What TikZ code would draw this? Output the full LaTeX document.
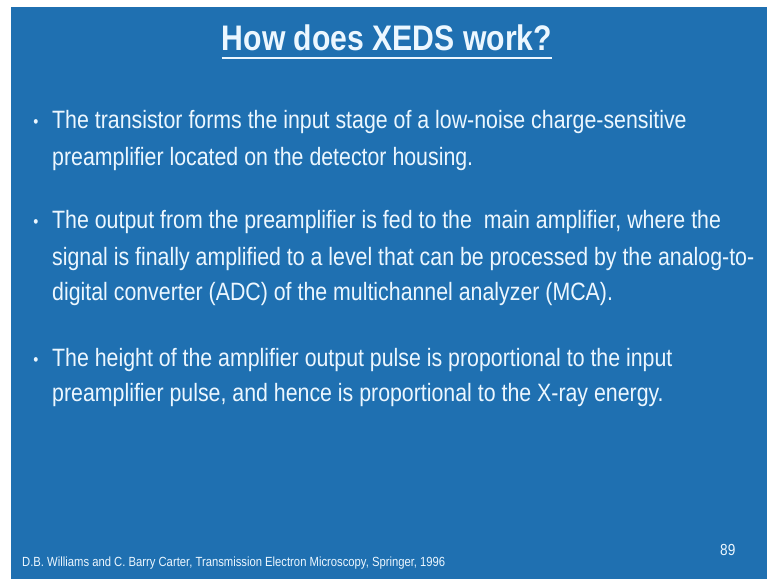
\documentclass[tikz,border=0pt]{standalone}
\usepackage{fontspec}
\setmainfont[FakeStretch=0.85]{Liberation Sans}
\definecolor{slideblue}{RGB}{31,112,177}
\definecolor{slidetext}{RGB}{236,247,255}
\begin{document}
\begin{tikzpicture}[x=1pt,y=-1pt,
  body/.style={anchor=base west,inner sep=0pt,text=slidetext,font=\fontsize{25.1}{28}\selectfont},
  dot/.style={anchor=base,inner sep=0pt,text=slidetext,font=\fontsize{17}{18}\selectfont}]
\useasboundingbox (0,0) rectangle (767,579);
\fill[white] (0,0) rectangle (767,579);
\fill[slideblue] (11,7) rectangle (767,579);
\node[anchor=base,inner sep=0pt,text=slidetext,font=\fontsize{35.5}{38}\bfseries] (title) at (387,50) {How does XEDS work?};
\draw[slidetext,line width=2.4pt] (title.west |- 0,58) -- (title.east |- 0,58);
\node[dot] (b1) at (36,127) {•};
\node[body] (l11) at (52,128) {The transistor forms the input stage of a low-noise charge-sensitive};
\node[body] (l12) at (52,165) {preamplifier located on the detector housing.};
\node[dot] (b2) at (36,227) {•};
\node[body] (l21) at (52,228) {The output from the preamplifier is fed to the\ \ main amplifier, where the};
\node[body] (l22) at (52,265) {signal is finally amplified to a level that can be processed by the analog-to-};
\node[body] (l23) at (52,300) {digital converter (ADC) of the multichannel analyzer (MCA).};
\node[dot] (b3) at (36,365) {•};
\node[body] (l31) at (52,366) {The height of the amplifier output pulse is proportional to the input};
\node[body] (l32) at (52,401) {preamplifier pulse, and hence is proportional to the X-ray energy.};
\node[anchor=base west,inner sep=0pt,text=slidetext,font=\fontsize{13.25}{15}\selectfont] (ref) at (22,566) {D.B. Williams and C. Barry Carter, Transmission Electron Microscopy, Springer, 1996};
\node[anchor=base west,inner sep=0pt,text=slidetext,font=\fontsize{16}{18}\selectfont] (page) at (720,555) {89};
\end{tikzpicture}
\end{document}
